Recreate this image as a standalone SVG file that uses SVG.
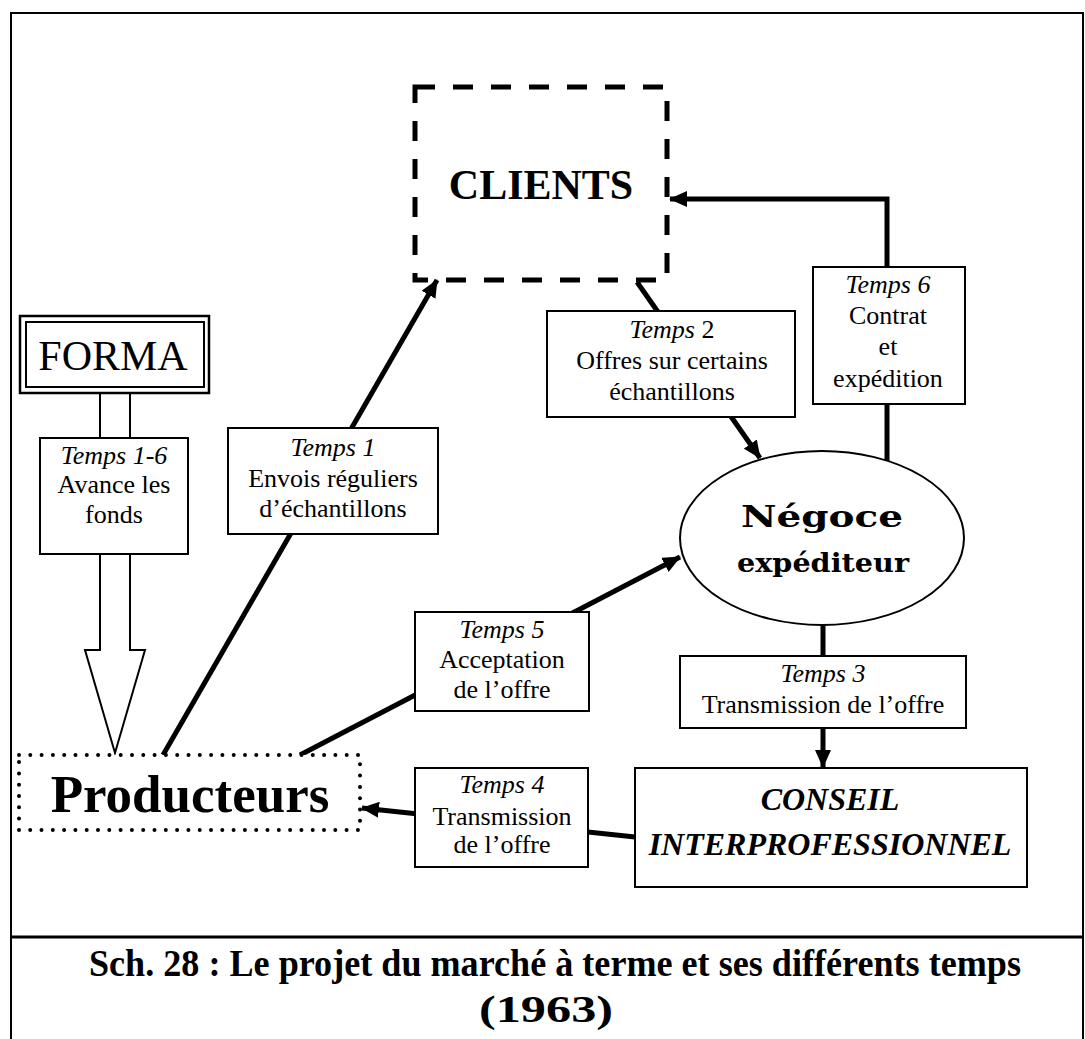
<svg xmlns="http://www.w3.org/2000/svg" width="1085" height="1039" viewBox="0 0 1085 1039">
<style>
.box{fill:#fff;stroke:#000;stroke-width:2}
.t{font-family:"Liberation Serif","Times New Roman",serif;font-size:26px;text-anchor:middle;fill:#000}
.i{font-style:italic}
.con{fill:none;stroke:#000;stroke-width:5}
</style>
<defs>
<marker id="ah" markerUnits="userSpaceOnUse" markerWidth="18" markerHeight="16" refX="17" refY="8" orient="auto">
<path d="M0,0 L18,8 L0,16 z" fill="#000"/>
</marker>
</defs>
<rect width="1085" height="1039" fill="#fff"/>
<path d="M11,1039 V13 H1083 V1039" fill="none" stroke="#000" stroke-width="2"/>
<line x1="11" y1="937" x2="1083" y2="937" stroke="#000" stroke-width="3"/>

<g id="connectors">
<path class="con" d="M163,755 L437,280" marker-end="url(#ah)"/>
<path class="con" d="M637,282 L760,458" marker-end="url(#ah)"/>
<path class="con" d="M887,461 V199 H670" marker-end="url(#ah)"/>
<path class="con" d="M300,755 L680,557" marker-end="url(#ah)"/>
<path class="con" d="M823,625 V767" marker-end="url(#ah)"/>
<path class="con" d="M635,837 L362,808" marker-end="url(#ah)"/>
<path d="M100,393 V650 H85 L115,753 L145,650 H130 V393" fill="#fff" stroke="#000" stroke-width="2"/>
</g>

<g id="clients">
<rect x="415" y="87" width="252" height="193" fill="none" stroke="#000" stroke-width="5" stroke-dasharray="20 18"/>
<text class="t" x="541" y="199" style="font-size:42px;font-weight:bold">CLIENTS</text>
</g>

<g id="forma">
<rect x="20" y="316" width="189" height="77" fill="#fff" stroke="#000" stroke-width="2.5"/>
<rect x="26" y="322" width="178" height="65" fill="none" stroke="#000" stroke-width="2"/>
<text class="t" x="113" y="370" style="font-size:42px">FORMA</text>
</g>

<g id="temps16">
<rect class="box" x="40" y="438" width="148" height="116"/>
<text class="t i" x="114" y="464">Temps 1-6</text>
<text class="t" x="114" y="493">Avance les</text>
<text class="t" x="114" y="523">fonds</text>
</g>

<g id="temps1">
<rect class="box" x="228" y="428" width="210" height="106"/>
<text class="t i" x="333" y="456">Temps 1</text>
<text class="t" x="333" y="487">Envois réguliers</text>
<text class="t" x="333" y="517">d’échantillons</text>
</g>

<g id="temps2">
<rect class="box" x="547" y="311" width="248" height="106"/>
<text class="t" x="672" y="338"><tspan class="i">Temps</tspan> 2</text>
<text class="t" x="672" y="369">Offres sur certains</text>
<text class="t" x="672" y="400">échantillons</text>
</g>

<g id="temps6">
<rect class="box" x="813" y="267" width="152" height="137"/>
<text class="t i" x="888" y="293">Temps 6</text>
<text class="t" x="888" y="324">Contrat</text>
<text class="t" x="888" y="355">et</text>
<text class="t" x="888" y="387">expédition</text>
</g>

<g id="negoce">
<ellipse cx="822" cy="538" rx="142" ry="87" fill="#fff" stroke="#000" stroke-width="2"/>
<text x="822" y="527" text-anchor="middle" font-family="DejaVu Serif, serif" font-weight="bold" font-size="30" textLength="162" lengthAdjust="spacingAndGlyphs">Négoce</text>
<text x="823" y="572" text-anchor="middle" font-family="DejaVu Serif, serif" font-weight="bold" font-size="26" textLength="172" lengthAdjust="spacingAndGlyphs">expéditeur</text>
</g>

<g id="temps5">
<rect class="box" x="415" y="612" width="174" height="99"/>
<text class="t i" x="502" y="638">Temps 5</text>
<text class="t" x="502" y="668">Acceptation</text>
<text class="t" x="502" y="698">de l’offre</text>
</g>

<g id="temps3">
<rect class="box" x="680" y="656" width="286" height="72"/>
<text class="t i" x="823" y="682">Temps 3</text>
<text class="t" x="823" y="713">Transmission de l’offre</text>
</g>

<g id="producteurs">
<rect x="19" y="755" width="341" height="75" fill="#fff" stroke="#000" stroke-width="4" stroke-linecap="round" stroke-dasharray="0 11.3"/>
<text class="t" x="190" y="812" style="font-size:53px;font-weight:bold">Producteurs</text>
</g>

<g id="temps4">
<rect class="box" x="415" y="768" width="173" height="99"/>
<text class="t i" x="502" y="793">Temps 4</text>
<text class="t" x="502" y="825">Transmission</text>
<text class="t" x="502" y="853">de l’offre</text>
</g>

<g id="conseil">
<rect class="box" x="635" y="768" width="392" height="119"/>
<text class="t" x="830" y="810" style="font-size:32px;font-weight:bold;font-style:italic">CONSEIL</text>
<text class="t" x="830" y="855" style="font-size:32px;font-weight:bold;font-style:italic">INTERPROFESSIONNEL</text>
</g>

<g id="caption">
<text x="555" y="976" text-anchor="middle" font-family="Liberation Serif, serif" font-weight="bold" font-size="38" textLength="932" lengthAdjust="spacingAndGlyphs">Sch. 28 : Le projet du marché à terme et ses différents temps</text>
<text x="546" y="1022" text-anchor="middle" font-family="Liberation Serif, serif" font-weight="bold" font-size="38" textLength="134" lengthAdjust="spacingAndGlyphs">(1963)</text>
</g>
</svg>
